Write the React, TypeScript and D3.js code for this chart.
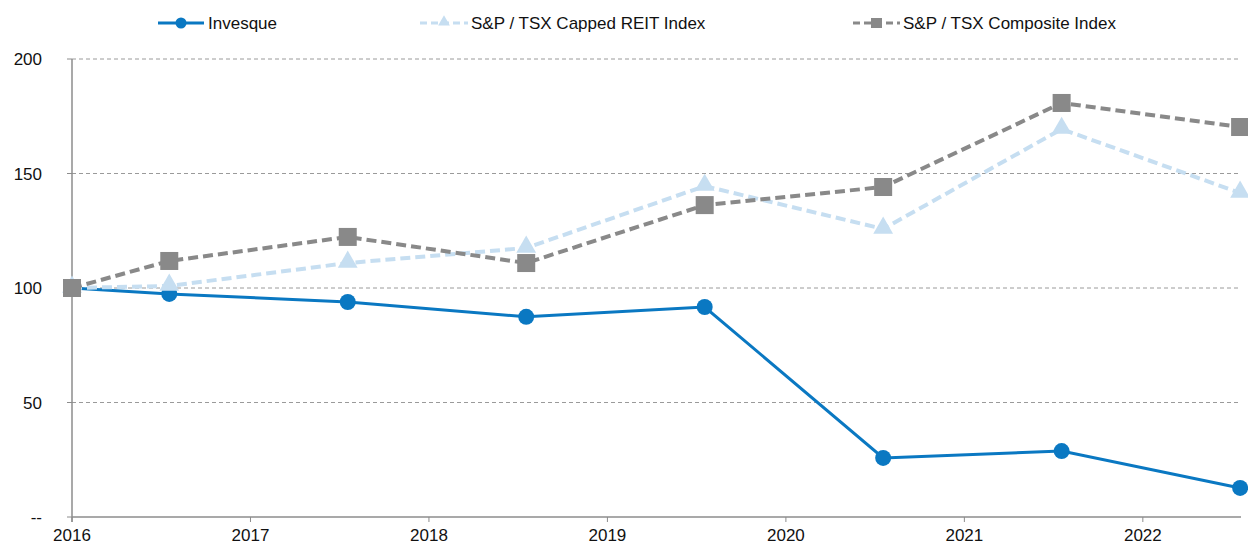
import React from 'react';
import * as d3 from 'd3';

// x positions in fractional years (first point at start of 2016, then mid-year)
const periods = [2016, 2016.545, 2017.545, 2018.545, 2019.545, 2020.545, 2021.545, 2022.545];
const invesque = [100, 97.4, 93.9, 87.4, 91.7, 25.8, 28.8, 12.7];
const reitIndex = [100, 100.9, 110.9, 117.5, 144.5, 125.8, 169.4, 141.5];
const compositeIndex = [100, 111.8, 122.3, 110.9, 136.2, 144.1, 180.8, 170.3];
const yearTicks = [2016, 2017, 2018, 2019, 2020, 2021, 2022];
const yTicks = [0, 50, 100, 150, 200];

const W = 1248;
const H = 546;
const margin = { top: 59, right: 7, bottom: 29, left: 72 };

const App = () => {
  const x = d3.scaleLinear().domain([2016, 2022.55]).range([margin.left, W - margin.right]);
  const y = d3.scaleLinear().domain([0, 200]).range([H - margin.bottom, margin.top]);

  const line = d3
    .line<number>()
    .x((d, i) => x(periods[i]))
    .y((d) => y(d));

  const font = 'Liberation Sans, Arial, sans-serif';
  const blue = '#0a78c2';
  const lightBlue = '#c6def1';
  const grey = '#898989';

  const tri = d3.symbol().type(d3.symbolTriangle).size(170)();

  return (
    <svg width={W} height={H} style={{ position: 'absolute', left: 0, top: 0 }} fontFamily={font}>
      {/* grid */}
      {yTicks.map((t) => (
        <g key={t}>
          {t > 0 && (
            <line x1={x(2016)} x2={W - margin.right} y1={y(t)} y2={y(t)} stroke="#9a9a9a" strokeDasharray="4,3" strokeWidth={1} />
          )}
          <line x1={x(2016) - 5} x2={x(2016)} y1={y(t)} y2={y(t)} stroke="#8c8c8c" />
          <text x={42} y={y(t) + 6} textAnchor="end" fontSize={17} fill="#111">
            {t === 0 ? '--' : t}
          </text>
        </g>
      ))}
      {/* axes */}
      <line x1={x(2016)} x2={x(2016)} y1={y(200)} y2={y(0) + 5} stroke="#8c8c8c" strokeWidth={1.5} />
      <line x1={x(2016)} x2={W - margin.right} y1={y(0)} y2={y(0)} stroke="#8c8c8c" strokeWidth={1.5} />
      {yearTicks.map((t) => (
        <g key={t}>
          <line x1={x(t)} x2={x(t)} y1={y(0)} y2={y(0) + 5} stroke="#8c8c8c" />
          <text x={x(t)} y={541} textAnchor="middle" fontSize={17} fill="#111">
            {t}
          </text>
        </g>
      ))}

      {/* Invesque */}
      <path d={line(invesque) || ''} fill="none" stroke={blue} strokeWidth={3} />
      {invesque.map((v, i) => (
        <circle key={i} cx={x(periods[i])} cy={y(v)} r={8} fill={blue} />
      ))}

      {/* REIT index */}
      <path d={line(reitIndex) || ''} fill="none" stroke={lightBlue} strokeWidth={4} strokeDasharray="10,5" />
      {reitIndex.map((v, i) => (
        <path key={i} d={tri || ''} transform={`translate(${x(periods[i])},${y(v) - 1})`} fill={lightBlue} />
      ))}

      {/* Composite index */}
      <path d={line(compositeIndex) || ''} fill="none" stroke={grey} strokeWidth={4} strokeDasharray="10,5" />
      {compositeIndex.map((v, i) => (
        <rect key={i} x={x(periods[i]) - 9} y={y(v) - 9} width={18} height={18} fill={grey} />
      ))}

      {/* legend */}
      <g>
        <line x1={158} x2={204} y1={23} y2={23} stroke={blue} strokeWidth={3} />
        <circle cx={181} cy={23} r={5.5} fill={blue} />
        <text x={208} y={29} fontSize={17} fill="#111">Invesque</text>

        <line x1={420} x2={468} y1={23} y2={23} stroke={lightBlue} strokeWidth={3} strokeDasharray="7,4" />
        <path d={d3.symbol().type(d3.symbolTriangle).size(60)() || ''} transform="translate(444,22)" fill={lightBlue} />
        <text x={471} y={29} fontSize={17} fill="#111">S&amp;P / TSX Capped REIT Index</text>

        <line x1={853} x2={900} y1={23} y2={23} stroke={grey} strokeWidth={3} strokeDasharray="7,4" />
        <rect x={871} y={18} width={11} height={10} fill={grey} />
        <text x={903} y={29} fontSize={17} fill="#111">S&amp;P / TSX Composite Index</text>
      </g>
    </svg>
  );
};

export default App;
